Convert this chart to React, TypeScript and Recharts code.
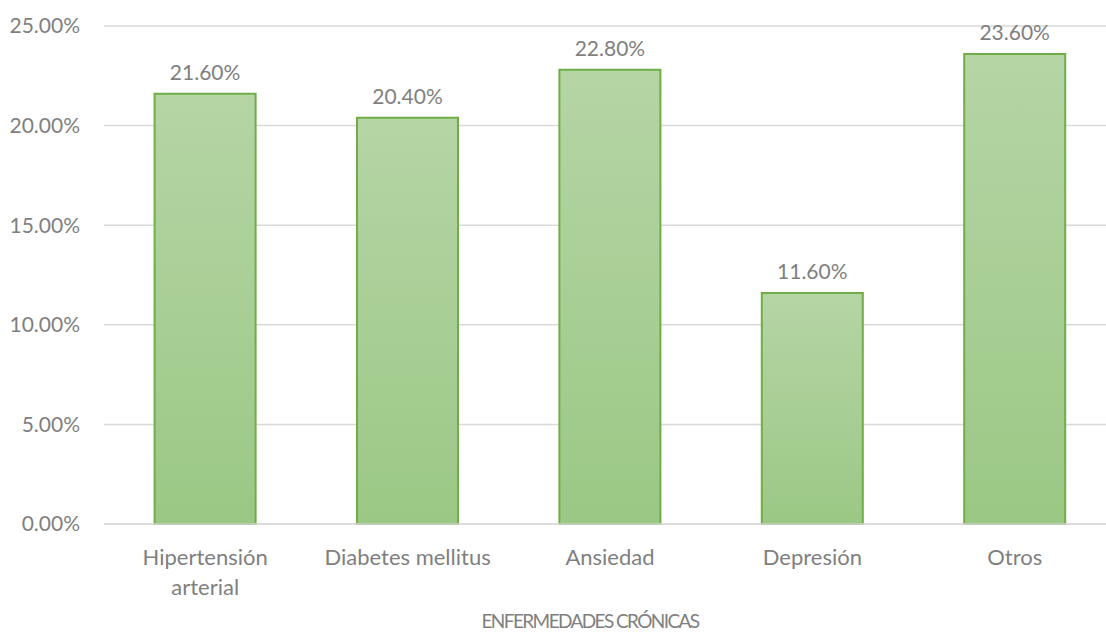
import React from 'react';
import { BarChart, Bar, XAxis, YAxis, CartesianGrid, LabelList } from 'recharts';

const categories = ['Hipertensión arterial', 'Diabetes mellitus', 'Ansiedad', 'Depresión', 'Otros'];
const percentages = [21.6, 20.4, 22.8, 11.6, 23.6];
const yTicks = [0, 5, 10, 15, 20, 25];

const data = categories.map((name, i) => ({ name, value: percentages[i] }));

const GRAY = '#7f7f7f';
const FONT = 'Lato, "Open Sans", sans-serif';

// long names wrap onto two lines, like the original
const CategoryTick = (props: any) => {
  const { x, y, payload } = props;
  const text: string = payload.value;
  const lines = text.length > 18 ? text.split(' ') : [text];
  return (
    <text x={x} y={y + 39} textAnchor="middle" fill={GRAY} fontSize={22} fontFamily={FONT}>
      {lines.map((line, i) => (
        <tspan key={i} x={x} dy={i === 0 ? 0 : 30}>
          {line}
        </tspan>
      ))}
    </text>
  );
};

const App: React.FC = () => {
  return (
    <div style={{ position: 'absolute', left: 0, top: 0, width: 1106, height: 632, overflow: 'hidden', background: '#fff' }}>
      <BarChart
        width={1120}
        height={632}
        data={data}
        margin={{ top: 26, right: 4, left: 0, bottom: 0 }}
        barCategoryGap="25%"
      >
        <defs>
          <linearGradient id="barFill" x1="0" y1="0" x2="0" y2="1">
            <stop offset="0%" stopColor="#b5d5a5" />
            <stop offset="100%" stopColor="#9bc885" />
          </linearGradient>
        </defs>
        <CartesianGrid vertical={false} stroke="#d9d9d9" strokeWidth={1.5} />
        <XAxis
          dataKey="name"
          height={108}
          axisLine={{ stroke: '#d9d9d9', strokeWidth: 1.5 }}
          tickLine={false}
          tickSize={0}
          interval={0}
          tick={<CategoryTick />}
          label={{
            value: 'ENFERMEDADES CRÓNICAS',
            position: 'insideBottom',
            offset: 4,
            dx: -20,
            fill: GRAY,
            fontSize: 19,
            letterSpacing: -1.6,
            fontFamily: FONT,
          }}
        />
        <YAxis
          width={104}
          domain={[0, 25]}
          ticks={yTicks}
          axisLine={false}
          tickLine={false}
          tickSize={0}
          tickMargin={24}
          tickFormatter={(v: number) => `${v.toFixed(2)}%`}
          tick={{ fill: GRAY, fontSize: 21, fontFamily: FONT }}
        />
        <Bar
          dataKey="value"
          fill="url(#barFill)"
          stroke="#70ad47"
          strokeWidth={2}
          isAnimationActive={false}
        >
          <LabelList
            dataKey="value"
            position="top"
            offset={14}
            formatter={(v: number) => `${v.toFixed(2)}%`}
            fill={GRAY}
            fontSize={21}
            fontFamily={FONT}
          />
        </Bar>
      </BarChart>
    </div>
  );
};

export default App;
